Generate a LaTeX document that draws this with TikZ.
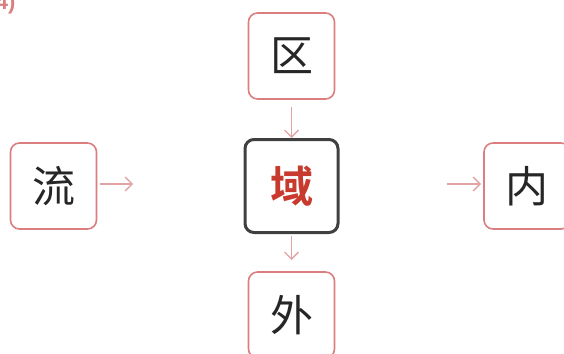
\documentclass[tikz,border=0pt]{standalone}
\usepackage{fontspec}
\newfontfamily\cjk{Noto Sans CJK SC}
\newfontfamily\cjkb{Noto Sans CJK SC Bold}
\newfontfamily\labf{Liberation Sans}
\usetikzlibrary{arrows.meta}
\definecolor{boxred}{HTML}{DB7E80}
\definecolor{arrred}{HTML}{E3A3A4}
\definecolor{darkb}{HTML}{404040}
\definecolor{hired}{HTML}{C83A2E}
\begin{document}
\begin{tikzpicture}[x=1pt,y=-1pt,
  cbox/.style={draw=boxred,line width=1.6pt,rounded corners=9pt,minimum width=86pt,minimum height=86pt,inner sep=0pt,fill=white,font=\cjk\fontsize{43}{43}\selectfont,text=black!85},
  mbox/.style={draw=darkb,line width=3pt,rounded corners=9pt,minimum width=93pt,minimum height=93pt,inner sep=0pt,fill=white,font=\cjkb\fontsize{43}{43}\selectfont,text=hired},
  arr/.style={draw=arrred,line width=1.3pt,-{Straight Barb[length=7pt,width=14pt,line width=1.3pt]}}]
\useasboundingbox (0,0) rectangle (564,353);
\node[anchor=east,text=boxred,font=\labf\bfseries\fontsize{22}{22}\selectfont] (lab) at (19,4) {(4)};
\node[cbox] (qu) at (291.5,56) {区};
\node[cbox] (liu) at (53.5,186) {流};
\node[mbox] (yu) at (291.5,186) {域};
\node[cbox] (nei) at (527,186) {内};
\node[cbox] (wai) at (291.5,315) {外};
\coordinate (a1s) at (100,184);
\coordinate (a1e) at (133,184);
\coordinate (a2s) at (447,184);
\coordinate (a2e) at (481,184);
\coordinate (a3s) at (291.5,107);
\coordinate (a3e) at (291.5,138);
\coordinate (a4s) at (291.5,236);
\coordinate (a4e) at (291.5,260);
\draw[arr] (a1s) -- (a1e);
\draw[arr] (a2s) -- (a2e);
\draw[arr] (a3s) -- (a3e);
\draw[arr] (a4s) -- (a4e);
\end{tikzpicture}
\end{document}
